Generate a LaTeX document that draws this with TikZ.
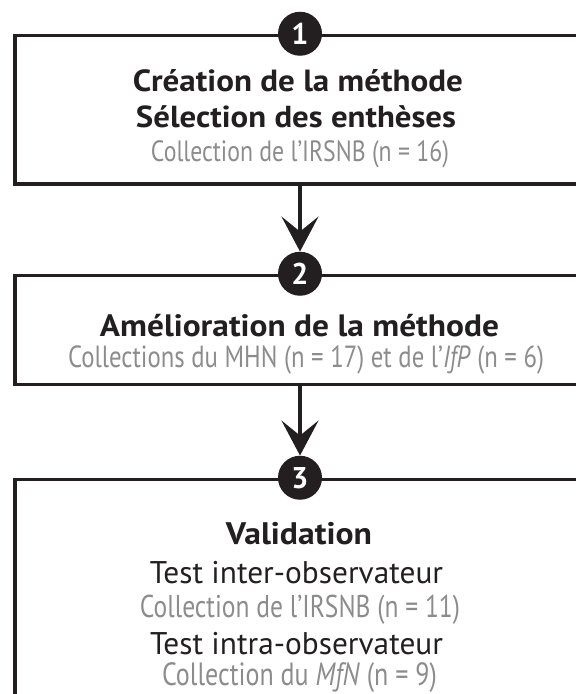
\documentclass[tikz,border=0pt]{standalone}
\usepackage{graphicx}
\usepackage{fontspec}
\setmainfont{PT Sans}
\newfontfamily\boldface[FakeStretch=1.08]{PT Sans}
\newfontfamily\condface[FakeStretch=0.81]{PT Sans}
\usetikzlibrary{arrows.meta}
\definecolor{ink}{HTML}{231F20}
\definecolor{graytxt}{HTML}{8C8C8C}
\newcommand{\fitw}[2]{\resizebox{#1}{!}{#2}}
\tikzset{
 stagebox/.style={draw=ink, line width=3.5pt, minimum width=570pt, inner sep=0pt},
 numcirc/.style={circle, fill=ink, draw=none, minimum size=44pt, inner sep=0pt, text=white, font=\fontsize{30}{30}\selectfont\bfseries},
 title/.style={anchor=base, text=ink, font=\fontsize{30}{30}\boldface\bfseries, inner sep=0pt},
 sub/.style={anchor=base, text=ink, font=\fontsize{30}{30}\selectfont, inner sep=0pt},
 coll/.style={anchor=base, text=graytxt, font=\fontsize{28.5}{28.5}\condface, inner sep=0pt},
 flow/.style={draw=ink, line width=3.5pt, -{Stealth[length=35pt,width=37pt,inset=15pt]}},
}
\begin{document}
\begin{tikzpicture}[x=1pt,y=-1pt]
\useasboundingbox (0,0) rectangle (576,694);
\clip (0,0) rectangle (576,694);
\node[stagebox, minimum height=148.5pt] (b1) at (300,109.75) {};
\node[stagebox, minimum height=109pt] (b2) at (300,330) {};
\node[stagebox, minimum height=261pt] (b3) at (300,610) {};
\node[numcirc] (c1) at (b1.north) {1};
\node[numcirc] (c2) at (b2.north) {2};
\node[numcirc] (c3) at (b3.north) {3};
\draw[flow] (b1.south) -- (c2.north);
\draw[flow] (b2.south) -- (c3.north);
\node[title] (t1) at (298,91) {\fitw{330pt}{Création de la méthode}};
\node[title] (t2) at (296,127) {\fitw{320pt}{Sélection des enthèses}};
\node[coll] (t3) at (300,161) {\fitw{298pt}{Collection de l’IRSNB (n = 16)}};
\node[title] (t4) at (299.5,336) {\fitw{399pt}{Amélioration de la méthode}};
\node[coll] (t5) at (306,367) {\fitw{476pt}{Collections du MHN (n = 17) et de l’\textit{IfP} (n = 6)}};
\node[title] (t6) at (299,544) {\fitw{146pt}{Validation}};
\node[sub] (t7) at (296.5,583) {\fitw{293pt}{Test inter-observateur}};
\node[coll] (t8) at (300,617) {\fitw{320pt}{Collection de l’IRSNB (n = 11)}};
\node[sub] (t9) at (296.5,654) {\fitw{293pt}{Test intra-observateur}};
\node[coll] (t10) at (299.5,685) {\fitw{275pt}{Collection du \textit{MfN} (n = 9)}};
\end{tikzpicture}
\end{document}
